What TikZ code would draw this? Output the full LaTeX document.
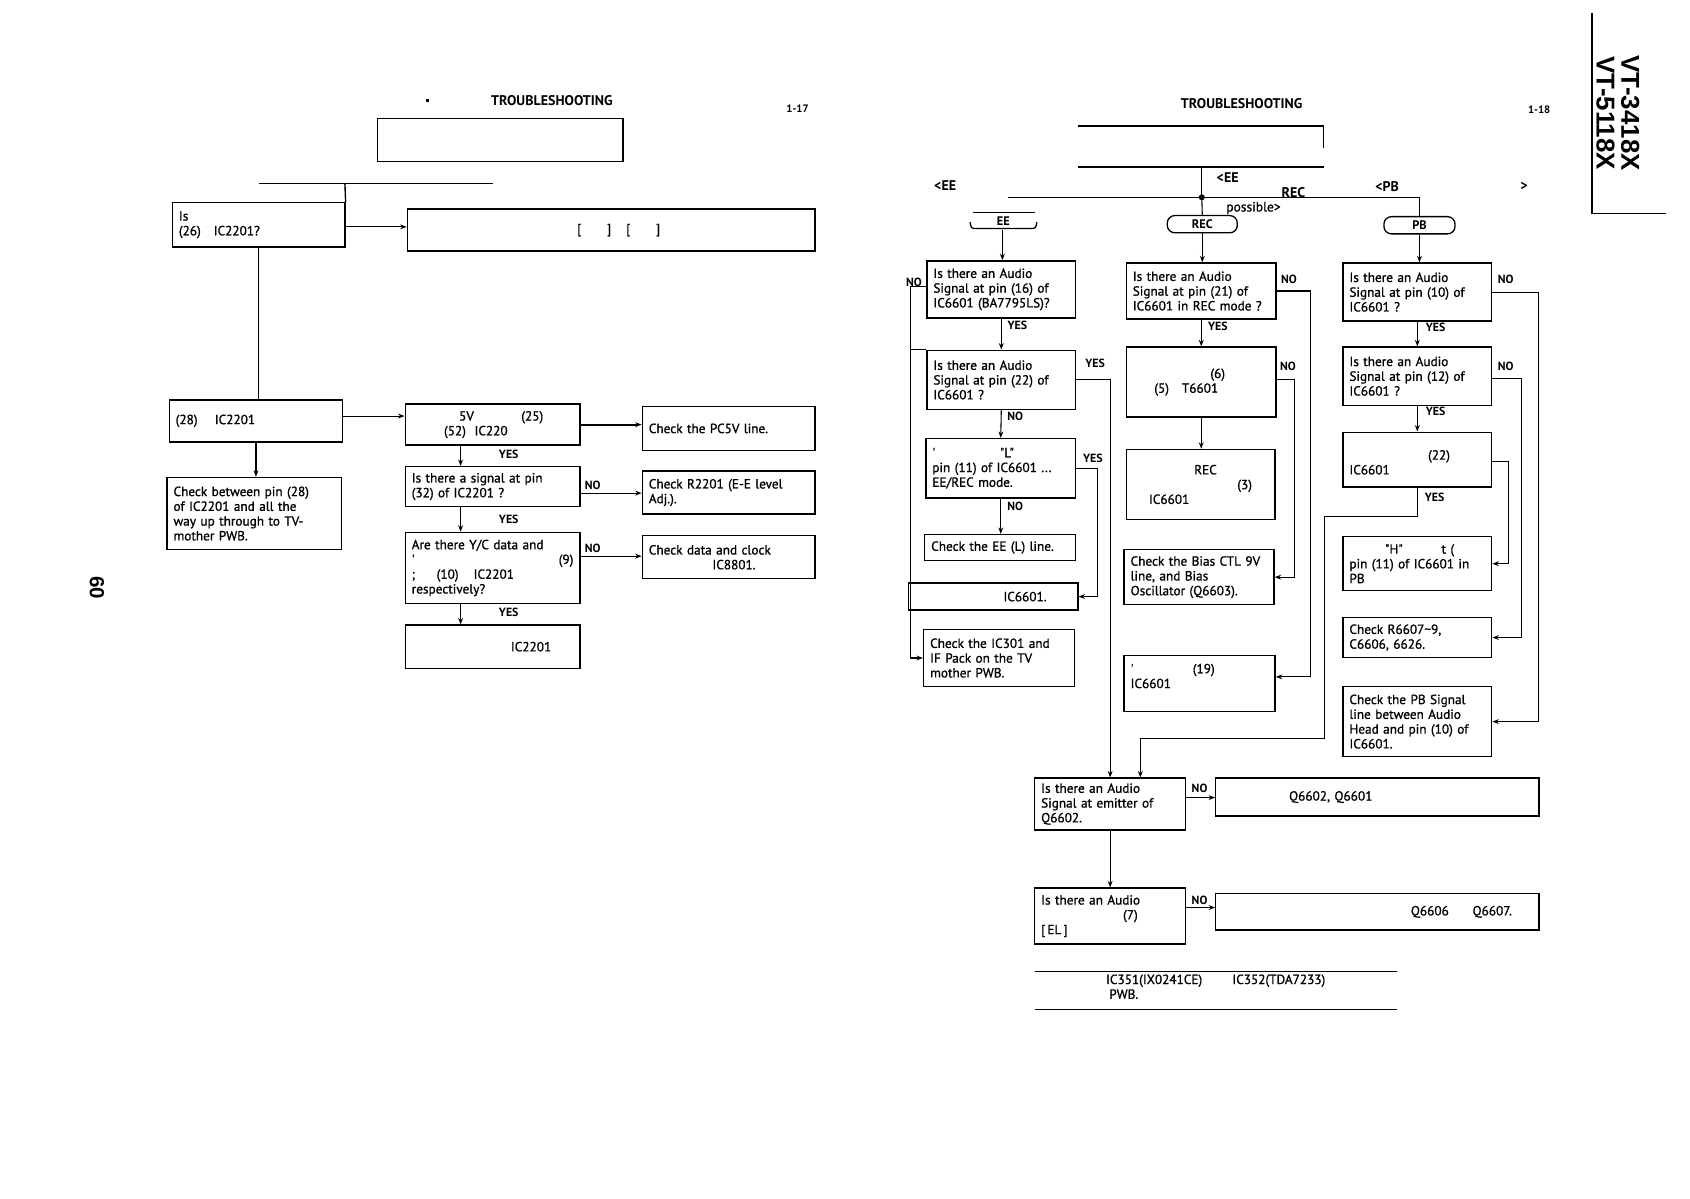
\documentclass[tikz,border=0pt]{standalone}
\usepackage{fontspec}
\setmainfont{PT Sans}
\newfontfamily\bxf{PT Sans}[FakeBold=1]
\newfontfamily\hvfont{Liberation Sans}
\usetikzlibrary{arrows.meta}
\newcommand\flbox[6]{%
  \pgfmathsetmacro\fbw{#4-#2}%
  \pgfmathsetmacro\fbh{#5-#3}%
  \pgfmathsetmacro\fbtw{#4-#2-12}%
  \pgfmathsetmacro\fbcx{(#2+#4)/2}%
  \pgfmathsetmacro\fbcy{(#3+#5)/2}%
  \node[bx, minimum width=\fbw pt, minimum height=\fbh pt, text width=\fbtw pt] (#1) at (\fbcx,\fbcy) {#6};%
}
\begin{document}
\begin{tikzpicture}[x=1pt,y=-1pt,
  bx/.style={draw, line width=1.3pt, inner sep=0pt, align=left, font=\bxf\fontsize{12.3}{13.7}\selectfont},
  ln/.style={line width=1pt},
  arr/.style={line width=1pt, -{Stealth[length=6pt,width=4.5pt]}},
  lbl/.style={font=\bfseries\fontsize{11}{12}\selectfont, inner sep=0.5pt},
  hd/.style={font=\bfseries\fontsize{13}{15}\selectfont, inner sep=0pt},
  term/.style={draw, line width=1.2pt, rounded corners=7pt, minimum width=65pt, minimum height=16pt, inner sep=0pt, font=\bfseries\fontsize{11.5}{12}\selectfont}
]
\useasboundingbox (0,0) rectangle (1568,1112);

% ---------------- LEFT PAGE ----------------
\node[fill, inner sep=1.3pt] (ldot) at (397,93) {};
\node[hd] (lhead) at (512,93) {TROUBLESHOOTING};
\node[hd, font=\bfseries\fontsize{10}{12}\selectfont] (lpg) at (740,101) {1-17};
\node[draw, line width=1.3pt, minimum width=228pt, minimum height=40pt, inner sep=0pt] (ltitle) at (464,130) {};

\coordinate (lt1) at (240,170);
\coordinate (lt2) at (457,170);
\coordinate (ltj) at (320,170);
\draw[line width=1.3pt] (lt1) -- (lt2);

\flbox{lb1}{160}{188}{320}{229}{Is\\(26)\hspace*{12pt}IC2201?}
\draw[line width=1.3pt] (ltj) -- (lb1.north east);
\node[bx, minimum width=378pt, minimum height=39pt, align=center] (lb2) at (567,213.5) {\hspace*{14pt}{[}\hspace{24pt}{]}\hspace{14pt}{[}\hspace{24pt}{]}};
\flbox{lb3}{157}{371}{318}{410}{(28)\hspace*{16pt}IC2201}
\flbox{lb4}{376}{375}{538}{413}{\hspace*{44pt}5V\hspace*{44pt}(25)\\\hspace*{30pt}(52)\hspace*{8pt}IC220}
\flbox{lb5}{596}{377}{756}{418}{Check the PC5V line.}
\flbox{lb6}{376}{433}{538}{470}{Is there a signal at pin\\(32) of IC2201 ?}
\flbox{lb7}{596}{437}{756}{477}{Check R2201 (E-E level\\Adj.).}
\flbox{lb8}{376}{494}{538}{560}{Are there Y/C data and\\'\hfill(9)\hspace*{14pt}\\;\hspace*{20pt}(10)\hspace*{14pt}IC2201\\respectively?}
\flbox{lb9}{596}{497}{756}{537}{Check data and clock\\\hspace*{59pt}IC8801.}
\flbox{lb10}{376}{580}{538}{620}{\hspace*{92pt}IC2201}
\flbox{lb11}{155}{443}{317}{510}{Check between pin (28)\\of IC2201 and all the\\way up through to TV-\\mother PWB.}

\draw[arr] ([yshift=-2pt]lb1.east) -- ([yshift=-2pt]lb1.east -| lb2.west);
\draw[ln] (lb1.south) -- (lb1.south |- lb3.north);
\draw[arr] ([yshift=4.5pt]lb3.east) -- ([yshift=4.5pt]lb3.east -| lb4.west);
\draw[arr] (lb3.south) -- (lb3.south |- lb11.north);
\draw[line width=1.8pt, -{Stealth[length=6pt,width=4.5pt]}] (lb4.east) -- (lb4.east -| lb5.west);
\draw[arr] ([xshift=52pt]lb4.south west) -- ([xshift=52pt]lb6.north west);
\draw[arr] ([yshift=-6pt]lb6.east) -- ([yshift=-6pt]lb6.east -| lb7.west);
\draw[arr] ([xshift=52pt]lb6.south west) -- ([xshift=52pt]lb8.north west);
\draw[arr] ([yshift=11pt]lb8.east) -- ([yshift=11pt]lb8.east -| lb9.west);
\draw[arr] ([xshift=52pt]lb8.south west) -- ([xshift=52pt]lb10.north west);

\node[lbl] (ly1) at (472,422) {YES};
\node[lbl] (ly2) at (472,482) {YES};
\node[lbl] (ly3) at (472,568) {YES};
\node[lbl] (ln1) at (550,450) {NO};
\node[lbl] (ln2) at (550,509) {NO};

\node[rotate=-90, font=\hvfont\bfseries\fontsize{19}{19}\selectfont, inner sep=0pt] (pg60) at (90,545) {60};

% ---------------- RIGHT PAGE ----------------
\node[hd] (rhead) at (1152,96) {TROUBLESHOOTING};
\node[hd, font=\bfseries\fontsize{10}{12}\selectfont] (rpg) at (1428,102) {1-18};
\coordinate (rt1) at (1000,117);
\coordinate (rt2) at (1228,117);
\coordinate (rt3) at (1228,137);
\coordinate (rt4) at (1000,155);
\coordinate (rt5) at (1228,155);
\draw[line width=1.3pt] (rt1) -- (rt2) -- (rt3);
\draw[line width=1.3pt] (rt4) -- (rt5);

\coordinate (rjt) at (1115,155);
\coordinate (rj) at (1115,183);
\coordinate (rh1) at (935,183);
\node[term] (trec) at (1115.5,208) {REC};
\node[term, minimum width=66pt] (tpb) at (1317,209) {PB};
\node[font=\bfseries\fontsize{11.5}{12}\selectfont, inner sep=0pt] (tee) at (931,205) {EE};
\draw[line width=1.2pt] (903,197) -- (960,197);
\draw[line width=1.2pt] (900,206) .. controls (901,212) .. (907,212) -- (955,212) .. controls (961,212) .. (962,206);
\coordinate (teeb) at (930,213);

\draw[ln] (rjt) -- (rj);
\draw[ln] (rh1) -- (rj) -| (tpb.north);
\draw[ln] (rj) -- (trec.north);
\fill (rj) circle (2.8pt);

\node[hd] (tx1) at (1139,165) {<EE};
\node[hd] (tx2) at (877,172) {<EE};
\node[hd] (tx3) at (1200,179) {REC};
\node[hd] (tx4) at (1287,173) {<PB};
\node[hd] (tx5) at (1414,173) {>};
\node[font=\bxf\fontsize{12.5}{13}\selectfont, inner sep=0pt] (tx6) at (1163,193) {possible>};

% EE column
\flbox{re1}{860}{242}{998}{295}{Is there an Audio\\Signal at pin (16) of\\IC6601 (BA7795LS)?}
\flbox{re2}{860}{325}{998}{380}{Is there an Audio\\Signal at pin (22) of\\IC6601 ?}
\flbox{re3}{859}{407}{998}{462}{'\hspace*{60pt}"L"\\pin (11) of IC6601 ...\\EE/REC mode.}
\flbox{re4}{858}{496}{998}{520}{Check the EE (L) line.}
\flbox{re5}{843}{541}{1000}{566}{\hspace*{82pt}IC6601.}
\flbox{re6}{857}{584}{997}{637}{Check the IC301 and\\IF Pack on the TV\\mother PWB.}

% REC column
\flbox{rr1}{1045}{244}{1184}{296}{Is there an Audio\\Signal at pin (21) of\\IC6601 in REC mode ?}
\flbox{rr2}{1045}{322}{1184}{387}{\hspace*{72pt}(6)\\\hspace*{20pt}(5)\hspace*{12pt}T6601}
\flbox{rr3}{1045}{417}{1183}{482}{\hspace*{57pt}REC\\\hspace*{97pt}(3)\\\hspace*{15pt}IC6601}
\flbox{rr4}{1043}{510}{1182}{561}{Check the Bias CTL 9V\\line, and Bias\\Oscillator (Q6603).}
\flbox{rr5}{1043}{608}{1183}{660}{'\hspace*{55pt}(19)\\IC6601\\\mbox{}}
\coordinate (rr5in) at ([yshift=6pt]rr5.east);

% PB column
\flbox{rp1}{1246}{244}{1384}{298}{Is there an Audio\\Signal at pin (10) of\\IC6601 ?}
\flbox{rp2}{1246}{322}{1384}{376}{Is there an Audio\\Signal at pin (12) of\\IC6601 ?}
\flbox{rp3}{1246}{401}{1384}{452}{\mbox{}\\\hspace*{73pt}(22)\\IC6601}
\flbox{rp4}{1246}{498}{1384}{548}{\hspace*{33pt}"H"\hspace*{36pt}t (\\pin (11) of IC6601 in\\PB}
\flbox{rp5}{1246}{573}{1384}{610}{Check R6607\textasciitilde 9,\\C6606, 6626.}
\flbox{rp6}{1246}{637}{1384}{702}{Check the PB Signal\\line between Audio\\Head and pin (10) of\\IC6601.}

% bottom
\flbox{rq1}{960}{722}{1100}{770}{Is there an Audio\\Signal at emitter of\\Q6602.}
\flbox{rq2}{1128}{722}{1428}{757}{\hspace*{62pt}Q6602, Q6601}
\flbox{rq3}{960}{824}{1100}{876}{Is there an Audio\\\hspace*{76pt}(7)\\{[}\,EL\,{]}}
\flbox{rq4}{1128}{829}{1428}{863}{\hspace*{175pt}Q6606\hspace*{22pt}Q6607.}

\coordinate (nl1) at (960,901);
\coordinate (nl2) at (1296,901);
\coordinate (nl3) at (960,937);
\coordinate (nl4) at (1296,937);
\draw[ln] (nl1) -- (nl2);
\draw[ln] (nl3) -- (nl4);
\node[anchor=north west, inner sep=0pt, align=left, font=\bxf\fontsize{12.3}{13.7}\selectfont] (note) at (1026,904) {IC351(IX0241CE)\hspace*{28pt}IC352(TDA7233)\\\hspace*{3pt}PWB.};

% routing coordinates
\coordinate (cx1) at (845,0);
\coordinate (cx3) at (1018,0);
\coordinate (cy3) at (1030,0);
\coordinate (cx4) at (1216,0);
\coordinate (cx5) at (1201,0);
\coordinate (cx6) at (1427,0);
\coordinate (cx7) at (1412,0);
\coordinate (cx8) at (1400,0);
\coordinate (cy1) at (1229,479);
\coordinate (cy2) at (1058,685);

% EE connectors
\draw[arr] (teeb) -- (teeb |- re1.north);
\draw[arr] ([yshift=3pt]re1.west) -| (cx1 |- re6.west) -- (re6.west);
\draw[ln] (cx1 |- re2.north) -- (re2.north west);
\draw[arr] (re1.south) -- (re2.north);
\draw[arr] (re2.east) -| (cy3 |- rq1.north);
\draw[arr] (re2.south) -- (re3.north);
\draw[arr] (re3.east) -| (cx3 |- re5.east) -- (re5.east);
\draw[arr] (re3.south) -- (re3.south |- re4.north);

% REC connectors
\draw[arr] (trec.south) -- (trec.south |- rr1.north);
\draw[arr] (rr1.east) -| (cx4 |- rr5in) -- (rr5in);
\draw[arr] (rr1.south) -- (rr2.north);
\draw[arr] ([yshift=2pt]rr2.east) -| (cx5 |- rr4.east) -- (rr4.east);
\draw[arr] (rr2.south) -- (rr2.south |- rr3.north);

% PB connectors
\draw[arr] (tpb.south) -- (tpb.south |- rp1.north);
\draw[arr] (rp1.east) -| (cx6 |- rp6.east) -- (rp6.east);
\draw[arr] (rp1.south) -- (rp2.north);
\draw[arr] ([yshift=-2pt]rp2.east) -| (cx7 |- rp5.east) -- (rp5.east);
\draw[arr] (rp2.south) -- (rp3.north);
\draw[arr] ([yshift=-2pt]rp3.east) -| (cx8 |- rp4.east) -- (rp4.east);
\draw[arr] (rp3.south) |- (cy1) |- (cy2) -- (cy2 |- rq1.north);

% bottom connectors
\draw[arr] ([yshift=6pt]rq1.east) -- ([yshift=6pt]rq1.east -| rq2.west);
\draw[arr] (rq1.south) -- (rq1.south |- rq3.north);
\draw[arr] ([yshift=8pt]rq3.east) -- ([yshift=8pt]rq3.east -| rq4.west);

% labels
\node[lbl] (rn1) at (848,262) {NO};
\node[lbl] (ry1) at (944,302) {YES};
\node[lbl] (ry2) at (1016,337) {YES};
\node[lbl] (rn2) at (942,386) {NO};
\node[lbl] (ry3) at (1014,425) {YES};
\node[lbl] (rn3) at (942,470) {NO};
\node[lbl] (rn4) at (1196,259) {NO};
\node[lbl] (ry4) at (1130,303) {YES};
\node[lbl] (rn5) at (1195,340) {NO};
\node[lbl] (rn6) at (1397,259) {NO};
\node[lbl] (ry5) at (1332,304) {YES};
\node[lbl] (rn7) at (1397,340) {NO};
\node[lbl] (ry6) at (1332,382) {YES};
\node[lbl] (ry7) at (1331,461) {YES};
\node[lbl] (rn8) at (1113,731) {NO};
\node[lbl] (rn9) at (1113,835) {NO};

% right edge
\coordinate (ve1) at (1477,12);
\coordinate (ve2) at (1477,198);
\coordinate (ve3) at (1546,198);
\draw[line width=1.3pt] (ve1) -- (ve2) -- (ve3);
\node[rotate=-90, align=center, inner sep=0pt, font=\hvfont\bfseries\fontsize{24}{23}\selectfont] (vt) at (1501,105) {VT-3418X\\VT-5118X};
\end{tikzpicture}
\end{document}
